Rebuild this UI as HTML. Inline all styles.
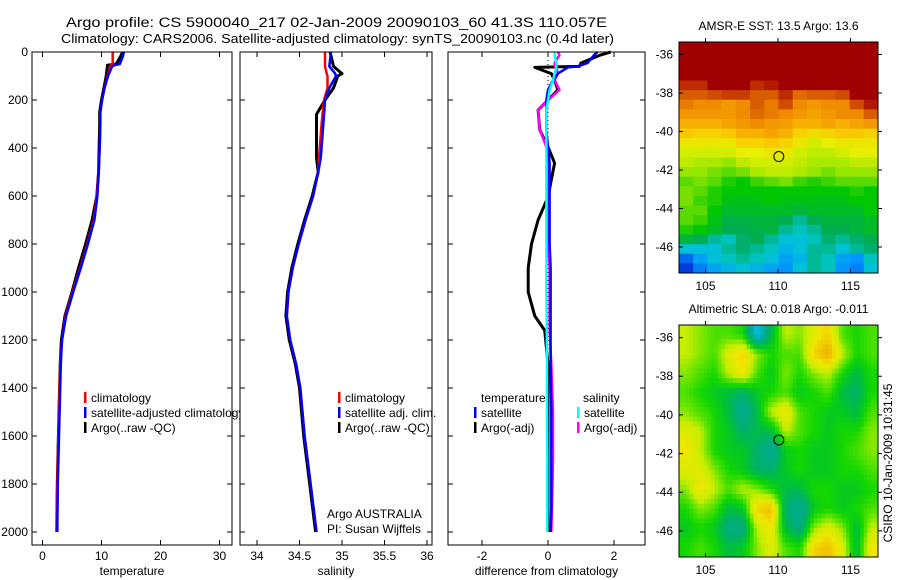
<!DOCTYPE html>
<html><head><meta charset="utf-8"><style>
html,body{margin:0;padding:0;background:#fff}
svg{display:block;font-family:"Liberation Sans",sans-serif}
text{fill:#000}
</style></head><body>
<svg id="fig" width="900" height="580" viewBox="0 0 900 580" xmlns="http://www.w3.org/2000/svg">
<text x="66" y="27" font-size="13.5" textLength="541" lengthAdjust="spacingAndGlyphs">Argo profile: CS 5900040_217 02-Jan-2009 20090103_60 41.3S 110.057E</text>
<text x="61" y="43" font-size="13" textLength="553" lengthAdjust="spacingAndGlyphs">Climatology: CARS2006. Satellite-adjusted climatology: synTS_20090103.nc (0.4d later)</text>
<g id="g1"></g>
<g id="g2"></g>
<g id="g3"></g>
<g id="m1"></g>
<g id="m2"></g>
<text font-size="12" transform="translate(892,463) rotate(-90)" text-anchor="middle">CSIRO 10-Jan-2009 10:31:45</text>
</svg>
<script>
// ---- profile data ----
const tDepth=[0,20,50,55,60,100,150,200,250,300,400,500,600,700,800,900,1000,1100,1200,1300,1400,1600,1800,2000];
const argoT=[13.6,13.2,12.5,11.0,11.0,10.8,10.4,10.0,9.7,9.7,9.6,9.5,9.2,8.4,7.3,6.1,5.0,3.8,3.2,3.0,2.9,2.7,2.5,2.4];
const climT=[11.9,11.9,11.9,11.6,11.5,11.0,10.5,10.1,9.8,9.8,9.7,9.5,9.2,8.7,7.6,6.4,5.1,3.9,3.3,3.0,2.9,2.7,2.5,2.4];
const satT=[13.8,13.6,13.1,12.2,11.8,11.1,10.5,10.1,9.8,9.8,9.7,9.5,9.3,8.8,7.7,6.5,5.2,4.0,3.3,3.1,3.0,2.8,2.6,2.5];
const sDepth=[0,30,60,90,100,150,200,260,300,440,500,600,700,800,900,1000,1100,1200,1300,1400,1600,1800,2000];
const argoS=[34.86,34.88,34.9,35.0,34.95,34.9,34.8,34.7,34.7,34.7,34.72,34.65,34.56,34.48,34.41,34.36,34.34,34.38,34.45,34.5,34.55,34.62,34.69];
const climS=[34.8,34.8,34.8,34.82,34.83,34.83,34.79,34.77,34.76,34.73,34.72,34.66,34.57,34.49,34.42,34.37,34.35,34.39,34.46,34.51,34.56,34.63,34.7];
const satS=[34.87,34.86,34.85,34.92,34.93,34.85,34.8,34.79,34.78,34.75,34.72,34.66,34.57,34.49,34.42,34.37,34.35,34.39,34.46,34.51,34.56,34.63,34.7];
const dDepth=[0,12,46,60,64,90,117,158,200,242,325,396,463,533,604,700,800,900,1000,1100,1160,1300,1500,1700,1900,2000];
const dTargo=[1.9,1.6,1.0,0.95,-0.4,0.1,0.2,0.3,0.0,-0.3,-0.25,0.0,0.2,0.1,0.0,-0.3,-0.5,-0.6,-0.6,-0.4,-0.1,0.0,0.0,0.0,0.0,0.0];
const dTsat=[1.5,1.4,1.2,0.9,0.6,0.3,0.15,0.0,-0.05,-0.05,-0.05,0.0,0.05,0.05,0.05,0.05,0.05,0.08,0.08,0.08,0.08,0.08,0.1,0.1,0.1,0.08];
const dSargo=[0.3,0.35,0.2,0.2,0.25,0.3,0.2,0.35,0.0,-0.3,-0.25,-0.05,0.0,0.0,0.0,0.0,0.0,0.05,0.05,0.05,0.05,0.1,0.15,0.15,0.12,0.1];
const dSsat=[0.2,0.2,0.25,0.25,0.25,0.2,0.15,0.05,0.0,-0.05,-0.05,-0.05,-0.05,-0.05,-0.05,-0.05,-0.05,-0.05,-0.05,-0.04,-0.04,-0.03,-0.03,-0.02,-0.02,-0.02];
const depthTicks=[0,200,400,600,800,1000,1200,1400,1600,1800,2000];
const tTicks=[0,10,20,30];
const sTicks=[34,34.5,35,35.5,36];
const sTickLabels=["34","34.5","35","35.5","36"];
const dTicks=[-2,0,2];
// ---- map data ----
const sstGrid=[
[100,100,100,100,100,100,100,100,100,100,100,100,100,100],
[100,100,100,100,100,100,100,100,100,100,100,100,100,100],
[100,100,100,100,100,100,100,100,100,100,100,100,100,100],
[100,100,100,100,100,100,100,100,100,100,100,100,100,100],
[90,90,95,100,100,90,92,100,100,100,100,100,100,100],
[84,84,86,88,88,84,84,90,82,84,84,86,96,100],
[80,78,78,76,78,84,80,86,78,76,78,78,86,92],
[76,76,76,76,78,82,80,78,76,74,76,78,78,84],
[72,72,72,74,76,78,76,75,72,72,74,72,74,76],
[68,66,66,68,72,72,74,72,66,64,66,68,68,66],
[62,62,62,62,66,66,68,66,62,58,60,62,62,62],
[58,58,58,58,60,60,62,62,58,56,56,58,60,60],
[56,54,54,52,56,58,58,58,56,54,54,54,56,56],
[52,52,50,48,50,54,56,56,54,52,50,52,52,52],
[48,50,48,44,42,46,48,50,46,44,46,48,48,48],
[50,48,44,42,42,42,42,42,42,42,42,42,44,42],
[50,46,44,40,40,40,42,40,40,40,40,40,42,42],
[48,48,42,38,38,38,38,38,36,38,38,38,38,42],
[48,46,40,35,35,36,36,34,30,34,36,36,36,38],
[44,42,38,34,34,35,36,30,28,30,34,34,36,38],
[36,34,30,28,32,34,30,26,26,28,32,30,32,34],
[26,26,26,30,32,30,28,24,26,30,30,26,30,32],
[16,22,26,28,30,28,26,22,24,30,28,22,20,28],
[12,18,22,24,26,24,22,20,26,30,28,20,18,26]];
const slaGrid=[
[3,2,1,1,0,-8,-2,3,2,4,6,1,0,1],
[3,2,1,4,6,2,0,1,1,6,8,3,0,1],
[2,1,0,3,5,1,-1,2,0,2,3,0,-2,0],
[1,0,-1,-2,-3,-1,0,1,-1,0,1,-2,-3,0],
[2,1,0,-2,-5,-2,3,5,1,0,-1,-1,-2,1],
[4,3,0,-1,-3,-2,-2,3,1,0,-1,0,0,2],
[5,3,0,-1,-1,-3,-5,-1,0,-1,-1,0,1,2],
[4,4,2,0,-1,-3,-3,-1,0,-1,-1,0,0,1],
[2,5,3,1,3,2,0,-2,-2,0,0,-1,-1,0],
[0,2,1,-2,-1,6,7,-3,-5,-1,0,-1,0,1],
[-1,0,-1,-4,-4,3,5,-2,-4,2,4,2,-2,3],
[0,1,0,-2,-1,2,4,1,0,6,7,4,-2,5]];
const latTicks=[-36,-38,-40,-42,-44,-46];
const lonTicks=[105,110,115];
const argoLon=110.057, argoLat=-41.3;

const NS="http://www.w3.org/2000/svg";
function mk(parent,tag,attrs){const e=document.createElementNS(NS,tag);for(const k in attrs)e.setAttribute(k,attrs[k]);parent.appendChild(e);return e;}
const yD=d=>52+0.24*d;
const Y0=52,Y1=545;

function panel(g,x0,x1,xs,ticks,labels,xlabel,leftLabels){
  const bg=mk(g,'rect',{x:x0,y:Y0,width:x1-x0,height:Y1-Y0,fill:'#fff',stroke:'none'});
  
  ticks.forEach((t,i)=>{
    const x=xs(t);
    const tk=mk(g,'path',{d:`M${x},${Y1}v-5M${x},${Y0}v5`,stroke:'#000','stroke-width':1});
    
    const tl=mk(g,'text',{x:x,y:Y1+15,'font-size':12,'text-anchor':'middle'});tl.textContent=labels[i];
    
  });
  depthTicks.forEach(d=>{
    const y=yD(d);
    const tk=mk(g,'path',{d:`M${x0},${y}h5M${x1},${y}h-5`,stroke:'#000','stroke-width':1});
    
    if(leftLabels){const tl=mk(g,'text',{x:x0-4,y:y+4,'font-size':12,'text-anchor':'end'});tl.textContent=d;
      }
  });
  const xl=mk(g,'text',{x:(x0+x1)/2,y:575,'font-size':12,'text-anchor':'middle'});xl.textContent=xlabel;
  
}
function frame(g,x0,x1){const f=mk(g,'rect',{x:x0,y:Y0,width:x1-x0,height:Y1-Y0,fill:'none',stroke:'#000','stroke-width':1});
  }
function line(g,depths,vals,xs,color,name,w){
  const d=depths.map((dp,i)=>(i?'L':'M')+xs(vals[i]).toFixed(1)+','+yD(dp).toFixed(1)).join('');
  const p=mk(g,'path',{d:d,fill:'none',stroke:color,'stroke-width':w||2.5,'stroke-linejoin':'round'});
  
}
function legend(g,x,y,color,label){
  const b=mk(g,'rect',{x:x,y:y-10,width:2.5,height:11,fill:color});
  
  const t=mk(g,'text',{x:x+7,y:y,'font-size':12});t.textContent=label;
  
}
const g1=document.getElementById('g1'),g2=document.getElementById('g2'),g3=document.getElementById('g3');
const xT=t=>42.5+5.9*t, xS=s=>257+85*(s-34), xDf=v=>548+33*v;
panel(g1,32,232,xT,tTicks,tTicks.map(String),'temperature',true);
line(g1,tDepth,argoT,xT,'#000','argo-temperature-line',3);
line(g1,tDepth,climT,xT,'#f00','climatology-temperature-line');
line(g1,tDepth,satT,xT,'#00f','satellite-temperature-line');
legend(g1,84,402,'#f00','climatology');
legend(g1,84,417,'#00f','satellite-adjusted climatology');
legend(g1,84,432,'#000','Argo(..raw -QC)');
frame(g1,32,232);
panel(g2,240,432,xS,sTicks,sTickLabels,'salinity',false);
line(g2,sDepth,argoS,xS,'#000','argo-salinity-line',3);
line(g2,sDepth,climS,xS,'#f00','climatology-salinity-line');
line(g2,sDepth,satS,xS,'#00f','satellite-salinity-line');
legend(g2,338,402,'#f00','climatology');
legend(g2,338,417,'#00f','satellite adj. clim.');
legend(g2,338,432,'#000','Argo(..raw -QC)');
[['Argo AUSTRALIA',518],['PI: Susan Wijffels',533]].forEach(a=>{const t=mk(g2,'text',{x:327,y:a[1],'font-size':12});t.textContent=a[0];
  });
frame(g2,240,432);
panel(g3,448,645,xDf,dTicks,dTicks.map(String),'difference from climatology',false);
const zl=mk(g3,'path',{d:`M${xDf(0)},${yD(0)}V${yD(2000)}`,stroke:'#000','stroke-width':1,'stroke-dasharray':'1,3'});

line(g3,dDepth,dTargo,xDf,'#000','argo-temperature-diff-line',3);
line(g3,dDepth,dSargo,xDf,'#f0f','argo-salinity-diff-line');
line(g3,dDepth,dTsat,xDf,'#00f','satellite-temperature-diff-line');
line(g3,dDepth,dSsat,xDf,'#0ff','satellite-salinity-diff-line');
[['temperature',481],['salinity',583]].forEach(a=>{const t=mk(g3,'text',{x:a[1],y:402,'font-size':12});t.textContent=a[0];
  });
legend(g3,474,417,'#00f','satellite');
legend(g3,474,432,'#000','Argo(-adj)');
legend(g3,577,417,'#0ff','satellite');
legend(g3,577,432,'#f0f','Argo(-adj)');
frame(g3,448,645);

// ---- maps ----
function cmap(stops,v){
  if(v<=stops[0][0])return stops[0][1];
  for(let i=1;i<stops.length;i++){if(v<=stops[i][0]){const a=stops[i-1],b=stops[i],f=(v-a[0])/(b[0]-a[0]);
    return a[1].map((c,k)=>Math.round(c+(b[1][k]-c)*f));}}
  return stops[stops.length-1][1];
}
const sstStops=[[0,[0,0,140]],[12,[0,60,220]],[20,[0,150,255]],[27,[0,200,210]],[33,[0,170,90]],[42,[0,200,0]],[52,[150,230,0]],[60,[230,240,0]],[68,[250,200,0]],[78,[240,140,0]],[88,[200,60,0]],[95,[160,0,0]],[100,[160,0,0]]];
const slaStops=[[-10,[0,120,230]],[-7,[0,190,210]],[-5,[0,170,150]],[-3,[0,175,110]],[-1.5,[0,195,50]],[0,[20,215,0]],[1.5,[100,228,0]],[3,[200,238,0]],[5,[240,230,0]],[7,[240,190,0]],[10,[240,160,0]]];
const LON0=103.17,LON1=116.9,LAT0=-35.35,LAT1=-47.35;
function sample(grid,fr,fc){
  const R=grid.length,C=grid[0].length;
  const r=Math.min(Math.max(fr-0.5,0),R-1),c=Math.min(Math.max(fc-0.5,0),C-1);
  const r0=Math.floor(r),c0=Math.floor(c),r1=Math.min(r0+1,R-1),c1=Math.min(c0+1,C-1),a=r-r0,b=c-c0;
  return grid[r0][c0]*(1-a)*(1-b)+grid[r0][c1]*(1-a)*b+grid[r1][c0]*a*(1-b)+grid[r1][c1]*a*b;
}
function map(g,top,bottom,grid,stops,title,cellName,up){
  const left=679,right=878;
  const xL=lo=>left+(lo-LON0)/(LON1-LON0)*(right-left);
  const yL=la=>top+(la-LAT0)/(LAT1-LAT0)*(bottom-top);
  const rows=grid.length*up,cols=grid[0].length*up;
  const dla=(LAT1-LAT0)/rows,dlo=(LON1-LON0)/cols;
  for(let r=0;r<rows;r++)for(let c=0;c<cols;c++){
    const v=up===1?grid[r][c]:sample(grid,(r+0.5)/up,(c+0.5)/up);
    const x=xL(LON0+c*dlo),y=yL(LAT0+r*dla),x2=xL(LON0+(c+1)*dlo),y2=yL(LAT0+(r+1)*dla);
    const col=cmap(stops,v);
    const e=mk(g,'rect',{x:x.toFixed(2),y:y.toFixed(2),width:(x2-x+0.4).toFixed(2),height:(y2-y+0.4).toFixed(2),fill:`rgb(${col})`});
    
  }
  const f=mk(g,'rect',{x:left,y:top,width:right-left,height:bottom-top,fill:'none',stroke:'#000','stroke-width':1});
  
  latTicks.forEach(la=>{const y=yL(la);
    const tk=mk(g,'path',{d:`M${left},${y}h4M${right},${y}h4`,stroke:'#000'});
    
    const t=mk(g,'text',{x:673,y:y+4,'font-size':12,'text-anchor':'end'});t.textContent=la;
    });
  lonTicks.forEach(lo=>{const x=xL(lo);
    const tk=mk(g,'path',{d:`M${x},${top}v-4M${x},${bottom}v-4`,stroke:'#000'});
    
    const t=mk(g,'text',{x:x,y:bottom+17,'font-size':12,'text-anchor':'middle'});t.textContent=lo;
    });
  const c=mk(g,'circle',{cx:xL(argoLon),cy:yL(argoLat),r:5,fill:'none',stroke:'#000','stroke-width':1});
  
  const t=mk(g,'text',{x:(left+right)/2,y:top-12,'font-size':12,'text-anchor':'middle'});t.textContent=title;
  
}
map(document.getElementById('m1'),42,273,sstGrid,sstStops,'AMSR-E SST: 13.5 Argo: 13.6','sst-cell',1);
map(document.getElementById('m2'),325,557,slaGrid,slaStops,'Altimetric SLA: 0.018 Argo: -0.011','sla-cell',4);
</script>
</body></html>
